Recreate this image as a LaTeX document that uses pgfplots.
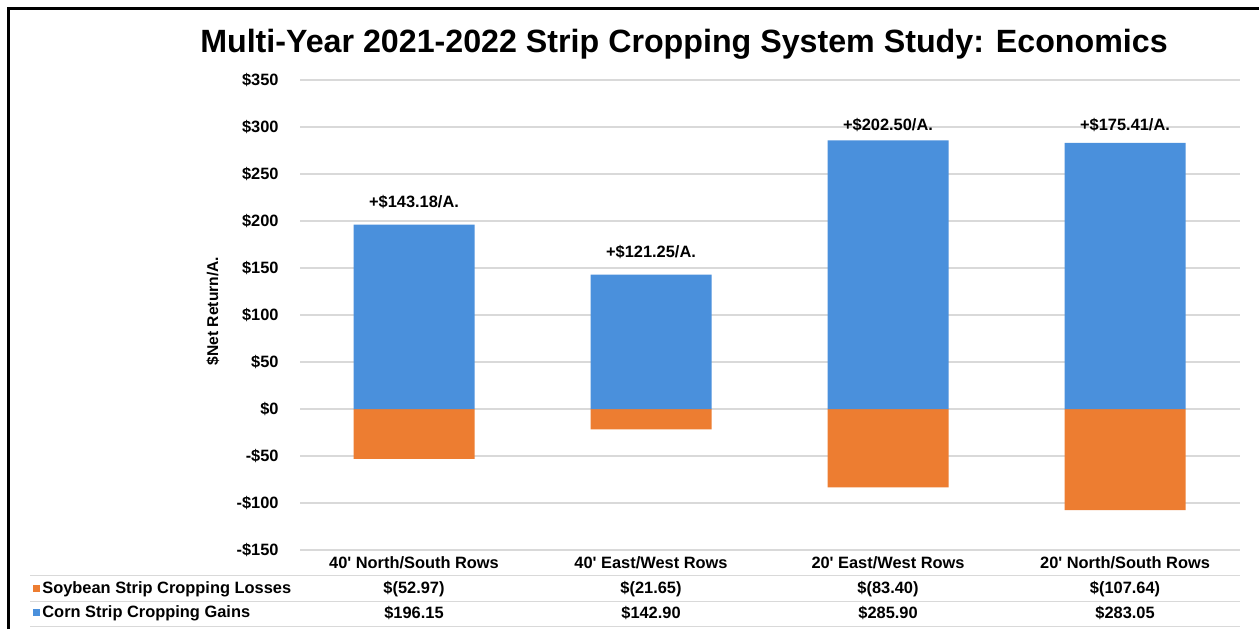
\documentclass[border=0pt]{standalone}
\usepackage{fontspec}
\setmainfont{Liberation Sans}
\usepackage{pgfplots}
\pgfplotsset{compat=1.18}
\definecolor{cblue}{RGB}{74,144,220}
\definecolor{corange}{RGB}{237,125,49}
\definecolor{gridc}{RGB}{217,217,217}
\newcommand{\lf}{\bfseries\fontsize{8.2}{9.8}\selectfont}
\begin{document}
\begin{tikzpicture}
\useasboundingbox (0,0) rectangle (629.5pt,314.5pt);
\fill[white] (0,0) rectangle (629.5pt,314.5pt);
\draw[line width=1.5pt] (4.25pt,0) -- (4.25pt,310.25pt) -- (629.5pt,310.25pt);
\begin{axis}[
  at={(150pt,39.5pt)}, anchor=south west,
  scale only axis, width=470pt, height=235pt,
  xmin=-0.481, xmax=3.485, ymin=-150, ymax=350,
  ytick={-150,-100,...,350},
  yticklabels={-\$150,-\$100,-\$50,\$0,\$50,\$100,\$150,\$200,\$250,\$300,\$350},
  xtick={0,1,2,3},
  xticklabels={40\textquotesingle{} North/South Rows,40\textquotesingle{} East/West Rows,20\textquotesingle{} East/West Rows,20\textquotesingle{} North/South Rows},
  axis line style={draw=none}, major tick length=0pt,
  ymajorgrids, grid style={gridc, line width=0.7pt},
  yticklabel style={font=\lf, anchor=east, inner sep=0pt, xshift=-10.5pt},
  xticklabel style={font=\lf, anchor=center, inner sep=0pt, yshift=-6.5pt},
  ybar, bar width=60.5pt, bar shift=0pt,
  clip=false,
]
\addplot[fill=corange, draw=none] coordinates {(0,-52.97) (1,-21.65) (2,-83.40) (3,-107.64)};
\addplot[fill=cblue, draw=none] coordinates {(0,196.15) (1,142.90) (2,285.90) (3,283.05)};
\node[font=\lf] at (axis cs:0,220) {+\$143.18/A.};
\node[font=\lf] at (axis cs:1,167) {+\$121.25/A.};
\node[font=\lf] at (axis cs:2,302) {+\$202.50/A.};
\node[font=\lf] at (axis cs:3,302) {+\$175.41/A.};
\node[font=\lf, yshift=-19.5pt] at (axis cs:0,-150) {\$(52.97)};
\node[font=\lf, yshift=-19.5pt] at (axis cs:1,-150) {\$(21.65)};
\node[font=\lf, yshift=-19.5pt] at (axis cs:2,-150) {\$(83.40)};
\node[font=\lf, yshift=-19.5pt] at (axis cs:3,-150) {\$(107.64)};
\node[font=\lf, yshift=-31.5pt] at (axis cs:0,-150) {\$196.15};
\node[font=\lf, yshift=-31.5pt] at (axis cs:1,-150) {\$142.90};
\node[font=\lf, yshift=-31.5pt] at (axis cs:2,-150) {\$285.90};
\node[font=\lf, yshift=-31.5pt] at (axis cs:3,-150) {\$283.05};
\end{axis}
\draw[gridc, line width=0.5pt] (15pt,27pt) -- (620pt,27pt);
\draw[gridc, line width=0.5pt] (15pt,14pt) -- (620pt,14pt);
\draw[gridc, line width=0.5pt] (15pt,1.5pt) -- (620pt,1.5pt);
\fill[corange] (16.5pt,18.3pt) rectangle (20pt,21.8pt);
\fill[cblue] (16.5pt,6.3pt) rectangle (20pt,9.8pt);
\node[font=\lf, anchor=west, inner sep=0pt] at (21pt,20pt) {Soybean Strip Cropping Losses};
\node[font=\lf, anchor=west, inner sep=0pt] at (21pt,8pt) {Corn Strip Cropping Gains};
\node[font=\bfseries\fontsize{16.1}{19}\selectfont] at (342pt,292.5pt) {Multi-Year 2021-2022 Strip Cropping System Study: Economics};
\node[font=\bfseries\fontsize{7.8}{9}\selectfont, rotate=90] at (106.5pt,159pt) {\$Net Return/A.};
\end{tikzpicture}
\end{document}
